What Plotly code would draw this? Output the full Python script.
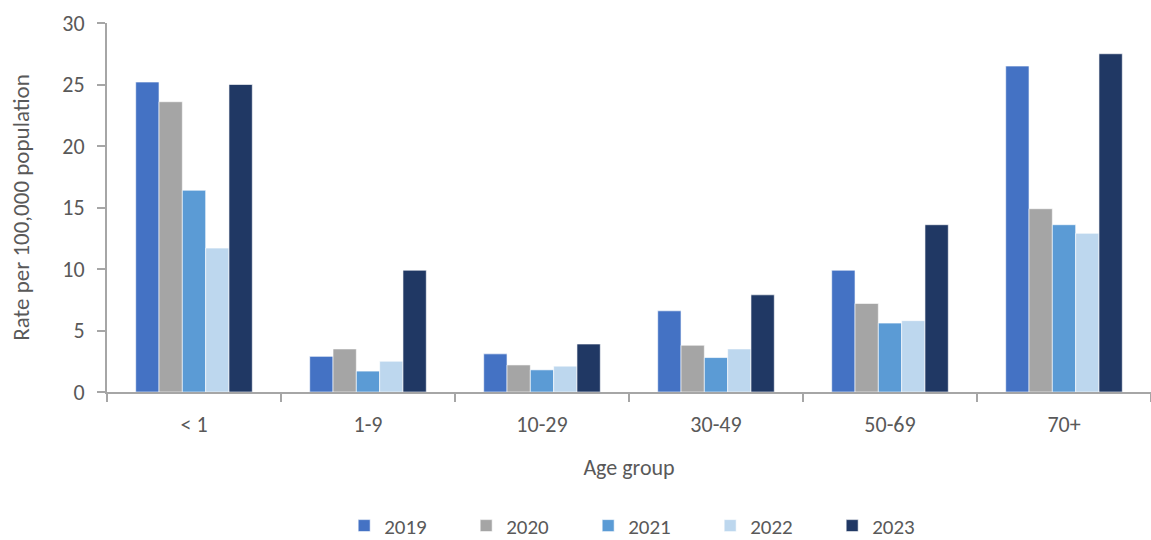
import plotly.graph_objects as go

# Age groups and yearly rates (per 100,000 population)
age_groups = ["< 1", "1-9", "10-29", "30-49", "50-69", "70+"]
years = ["2019", "2020", "2021", "2022", "2023"]
rate_2019 = [25.2, 2.9, 3.1, 6.6, 9.9, 26.5]
rate_2020 = [23.6, 3.5, 2.2, 3.8, 7.2, 14.9]
rate_2021 = [16.4, 1.7, 1.8, 2.8, 5.6, 13.6]
rate_2022 = [11.7, 2.5, 2.1, 3.5, 5.8, 12.9]
rate_2023 = [25.0, 9.9, 3.9, 7.9, 13.6, 27.5]
y_ticks = [0, 5, 10, 15, 20, 25, 30]

series = [rate_2019, rate_2020, rate_2021, rate_2022, rate_2023]
colors = ["#4472C4", "#A5A5A5", "#5B9BD5", "#BDD7EE", "#203864"]

FONT = "Carlito, Calibri, Lato, sans-serif"
TEXT = "#595959"
AXIS = "#A6A6A6"

fig = go.Figure()
for year, values, color in zip(years, series, colors):
    fig.add_trace(go.Bar(
        x=age_groups, y=values, name=year,
        marker=dict(color=color, line=dict(color="rgba(255,255,255,0.6)", width=1)),
    ))

fig.update_layout(
    width=1151, height=540,
    margin=dict(l=107, r=0, t=23, b=148),
    paper_bgcolor="white", plot_bgcolor="white",
    barmode="group", bargap=0.33, bargroupgap=0,
    font=dict(family=FONT, size=22, color=TEXT),
    legend=dict(
        orientation="h", x=0.564, xref="container", xanchor="center",
        y=0.026, yref="container", yanchor="middle",
        entrywidth=77, entrywidthmode="pixels", itemwidth=30,
        font=dict(family=FONT, size=21, color=TEXT),
        traceorder="normal",
    ),
    showlegend=True,
)

fig.update_xaxes(
    type="category",
    showline=True, linecolor=AXIS, linewidth=2,
    ticks="outside", tickson="boundaries", ticklen=8, tickcolor=AXIS, tickwidth=2,
    ticklabelstandoff=12,
    tickfont=dict(family=FONT, size=22, color=TEXT),
    showgrid=False,
    title=dict(text="Age group", font=dict(family=FONT, size=22, color=TEXT), standoff=22),
)

fig.update_yaxes(
    range=[0, 30], tickvals=y_ticks,
    showline=True, linecolor=AXIS, linewidth=2,
    ticks="outside", ticklen=8, tickcolor=AXIS, tickwidth=2,
    ticklabelstandoff=8,
    tickfont=dict(family=FONT, size=22, color=TEXT),
    showgrid=False, zeroline=False,
    title=dict(text="Rate per 100,000 population", font=dict(family=FONT, size=23, color=TEXT), standoff=26),
)

fig.write_html("out.html")
